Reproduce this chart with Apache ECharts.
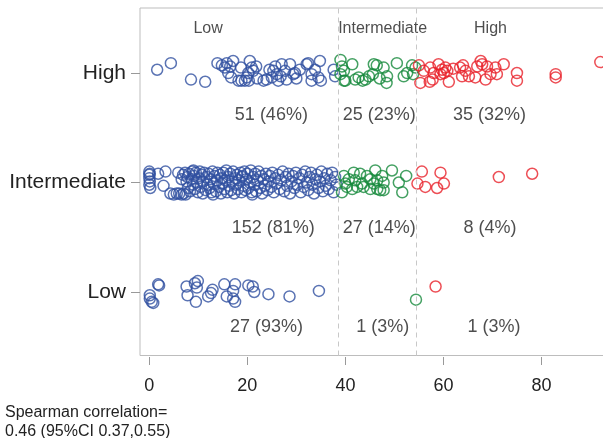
<!DOCTYPE html>
<html>
<head>
<meta charset="utf-8">
<title>Spearman jitter plot</title>
<script src="https://cdn.jsdelivr.net/npm/echarts@6/dist/echarts.min.js"></script>
<style>html,body{margin:0;padding:0;background:#fff;}</style>
</head>
<body>
<div id="main" style="width:603px;height:438px;"></div>
<script type="text/javascript">
// row categories (y) and column groups (x cut-offs)
var rowNames = ['Low', 'Intermediate', 'High'];
var groupNames = ['Low', 'Intermediate', 'High'];
var cutoffs = [38.55, 54.55];
var xTicks = [0, 20, 40, 60, 80];
var counts = [
  ['27 (93%)', '1 (3%)', '1 (3%)'],
  ['152 (81%)', '27 (14%)', '8 (4%)'],
  ['51 (46%)', '25 (23%)', '35 (32%)']
];
var note = 'Spearman correlation=\n0.46 (95%CI 0.37,0.55)';

// points per row and group: [value, vertical jitter]
var lowRowLow = [[0.1,-0.03],[0.1,-0.06],[0.5,-0.09],[0.8,-0.10],[1.8,0.07],[2.0,0.06],
  [7.6,0.05],[7.8,-0.03],[9.3,0.08],[9.9,0.10],[9.7,0.04],[9.5,-0.09],[12.0,-0.04],
  [12.9,0.02],[12.6,-0.01],[15.3,0.07],[15.8,-0.04],[17.1,0.01],[17.5,0.07],[17.1,-0.06],
  [17.5,-0.09],[20.2,0.06],[21.1,0.05],[21.4,0.00],[24.3,-0.02],[28.6,-0.04],[34.6,0.01]];
var lowRowInt = [[54.4,-0.07]];
var lowRowHigh = [[58.4,0.05]];

var intRowLow = [[0,0.10],[0,0.07],[0,0.04],[0.1,0.01],[0,-0.02],[0.2,-0.05],[0.1,0.08],
  [1.8,0.08],[2.9,-0.03],[3.3,0.10],[4.3,-0.10],[5.0,-0.11],[5.6,-0.10],[6.1,-0.10],[5.9,0.09],
  [6.6,-0.11],[7.0,-0.10],[7.4,-0.11],
  [6.6,0.03],[6.9,0.07],
  [7.3,0.09],[7.6,0.01],[7.9,-0.05],[7.8,0.05],
  [8.1,0.08],[8.3,-0.08],[8.6,0.03],[8.8,0.10],[8.9,-0.02],
  [9.1,0.06],[9.3,-0.06],[9.5,0.09],[9.7,0.00],[9.9,-0.09],[9.0,0.11],
  [10.1,0.04],[10.3,0.10],[10.5,-0.04],[10.7,0.07],[10.9,-0.10],
  [11.0,0.01],[11.2,0.09],[11.5,-0.07],[11.7,0.05],[11.9,-0.02],
  [12.1,0.08],[12.3,-0.05],[12.5,0.03],[12.7,-0.09],[12.9,0.10],
  [13.1,-0.01],[13.3,0.06],[13.6,-0.08],[13.8,0.02],[13.9,0.09],[13.0,-0.11],
  [14.2,-0.04],[14.4,0.07],[14.6,-0.10],[14.8,0.04],[14.9,-0.01],
  [15.1,0.09],[15.3,-0.06],[15.5,0.02],[15.7,0.11],[15.9,-0.09],
  [16.1,0.05],[16.3,-0.03],[16.5,0.08],[16.7,-0.07],[16.9,0.01],
  [17.1,0.10],[17.3,-0.10],[17.5,0.04],[17.7,-0.02],[17.9,0.07],
  [18.1,-0.06],[18.3,0.02],[18.6,0.09],[18.8,-0.09],[18.9,0.05],
  [19.2,-0.03],[19.4,0.10],[19.6,-0.07],[19.8,0.03],[19.0,0.06],
  [20.0,0.08],[20.2,-0.05],[20.5,0.00],[20.7,0.11],[20.9,-0.09],
  [21.2,0.05],[21.4,-0.02],[21.6,0.08],[21.8,-0.08],[21.0,-0.11],
  [22.1,0.02],[22.3,0.10],[22.6,-0.05],[22.8,0.06],
  [23.0,-0.10],[23.3,0.03],[23.5,-0.03],[23.8,0.08],
  [24.1,-0.07],[24.3,0.01],[24.6,0.06],[24.9,-0.04],
  [25.1,0.09],[25.4,-0.09],[25.7,0.04],
  [26.0,-0.01],[26.3,0.07],[26.6,-0.06],[26.9,0.02],
  [27.2,0.10],[27.5,-0.08],[27.8,0.05],
  [28.1,-0.03],[28.4,0.08],[28.7,-0.10],
  [29.0,0.01],[29.3,0.06],[29.6,-0.05],[29.9,0.09],
  [30.2,-0.02],[30.6,0.04],[30.9,-0.09],
  [31.2,0.07],[31.5,-0.04],[31.8,0.10],
  [32.1,0.00],[32.4,-0.07],[32.7,0.05],
  [33.0,0.09],[33.3,-0.02],[33.6,-0.10],[33.9,0.03],
  [34.2,0.07],[34.5,-0.05],[34.8,0.01],
  [35.1,0.10],[35.4,-0.08],[35.7,0.04],
  [36.0,-0.03],[36.3,0.08],[36.6,-0.06],
  [37.0,0.02],[37.3,0.09],[37.6,-0.09],
  [37.9,0.05],[38.2,-0.02]];
var intRowInt = [[39.7,0.06],[40.0,-0.01],[39.3,-0.09],[40.7,0.03],[41.7,0.09],[42.0,0.02],
  [41.4,-0.06],[43.0,0.08],[43.4,-0.01],[45.1,0.03],[45.1,-0.06],[46.1,0.11],[46.5,-0.06],
  [47.1,-0.07],[47.5,0.06],[47.8,0.00],[47.8,-0.07],[49.5,0.11],[50.9,0.00],[51.6,-0.09],
  [52.4,0.06],[43.7,-0.04],[45.8,-0.01],[40.3,-0.04],[42.4,-0.04],[44.4,0.06],[46.5,0.02]];
var intRowHigh = [[55.6,0.10],[54.7,-0.01],[56.3,-0.04],[59.4,0.09],[60.1,-0.01],[58.7,-0.05],
  [71.3,0.05],[78.1,0.08]];

var highRowLow = [[1.6,0.03],[4.4,0.09],[8.5,-0.06],[11.4,-0.08],[13.9,0.09],[14.8,0.07],
  [15.8,0.09],[15.4,0.05],[16.5,0.06],[17.1,0.11],[16.1,0.00],[16.7,-0.04],[18.2,-0.07],
  [18.7,0.05],[18.8,-0.07],[19.9,-0.04],[20.5,0.11],[20.9,0.05],[21.2,0.02],[20.2,0.00],
  [19.5,-0.07],[20.3,-0.07],[23.3,-0.07],[23.9,-0.06],[25.0,-0.04],[25.3,0.02],[25.7,0.06],
  [26.0,-0.01],[26.3,-0.07],[27.0,0.08],[27.7,0.02],[28.0,-0.06],[28.7,0.08],[29.4,-0.01],
  [29.7,0.00],[30.7,0.03],[32.1,0.08],[32.4,0.09],[33.1,-0.01],[33.1,-0.07],[33.8,0.03],
  [34.5,-0.04],[34.8,0.11],[35.0,-0.07],[37.6,0.03],[37.9,-0.03],[22.0,-0.05],[24.5,0.03],
  [26.8,-0.03],[21.8,0.06],[30.0,-0.05]];
var highRowInt = [[39.0,0.12],[39.3,0.06],[39.7,0.02],[39.0,-0.01],[40.0,-0.07],[41.4,0.08],
  [42.0,-0.06],[42.7,-0.04],[44.1,-0.06],[44.8,-0.03],[45.6,-0.01],[45.8,0.08],[46.4,0.07],
  [47.8,0.05],[48.5,-0.03],[48.4,-0.09],[50.5,0.09],[51.9,-0.03],[52.6,0.00],[53.6,0.07],
  [53.8,-0.01],[54.3,0.05],[39.7,-0.07],[43.5,-0.07],[47.0,-0.05]];
var highRowHigh = [[55.0,0.07],[55.3,-0.09],[56.0,0.02],[57.2,-0.08],[57.3,0.05],[58.0,0.00],
  [59.0,0.08],[59.7,0.03],[60.1,0.00],[60.4,0.05],[60.8,0.02],[61.1,-0.08],[59.4,-0.01],
  [63.4,0.05],[63.8,-0.03],[64.5,0.02],[65.2,-0.03],[66.5,-0.04],[66.9,0.06],[67.6,0.11],
  [67.9,0.08],[68.6,-0.06],[68.9,0.06],[69.6,-0.01],[70.6,0.05],[70.9,-0.01],[72.3,0.08],
  [75.0,0.00],[75.0,-0.07],[82.9,-0.01],[82.9,-0.04],[92.0,0.10],[62.0,0.04],[57.8,-0.06],
  [64.0,0.07]];

// text placement (data units)
var countX = [[23.9, 47.6, 70.3], [25.3, 46.9, 69.5], [24.9, 46.9, 69.4]];
var countY = [-0.32, 0.582, 1.616];
var headerX = [12.0, 47.6, 69.6];
var headerY = 2.41;

function toRow(points, row) {
  return points.map(function (p) { return [p[0], row + p[1]]; });
}

var blue = toRow(lowRowLow, 0).concat(toRow(intRowLow, 1), toRow(highRowLow, 2));
var green = toRow(lowRowInt, 0).concat(toRow(intRowInt, 1), toRow(highRowInt, 2));
var red = toRow(lowRowHigh, 0).concat(toRow(intRowHigh, 1), toRow(highRowHigh, 2));

var textData = [];
for (var r = 0; r < 3; r++) {
  for (var g = 0; g < 3; g++) {
    textData.push({ value: [countX[r][g], countY[r], counts[r][g]] });
  }
}
var headerData = headerX.map(function (x, i) { return { value: [x, headerY, groupNames[i]] }; });

var font = '"Liberation Sans", Arial, sans-serif';

function pointSeries(name, data, color) {
  return {
    name: name,
    type: 'scatter',
    data: data,
    symbol: 'circle',
    symbolSize: 11,
    itemStyle: { color: 'rgba(255,255,255,0)', borderColor: color, borderWidth: 1.5 },
    silent: true,
    z: 3
  };
}

var myChart = echarts.init(document.getElementById('main'));
myChart.setOption({
  animation: false,
  textStyle: { fontFamily: font },
  grid: { left: 140, top: 8, right: -12, bottom: 82.5, outerBoundsMode: 'none', containLabel: false,
    show: true, borderColor: '#bdbdbd', borderWidth: 1 },
  xAxis: {
    type: 'value', min: -1.9, max: 95, offset: 1.5,
    axisLine: { show: false, onZero: false },
    splitLine: { show: false },
    axisTick: { customValues: xTicks, length: 8, lineStyle: { color: '#999' } },
    axisLabel: { customValues: xTicks, fontSize: 18, color: '#222', margin: 20, fontFamily: font }
  },
  yAxis: {
    type: 'value', min: -0.58, max: 2.594,
    axisLine: { show: false, onZero: false },
    splitLine: { show: false },
    axisTick: { customValues: [0, 1, 2], length: 9, lineStyle: { color: '#999' } },
    axisLabel: {
      customValues: [0, 1, 2], fontSize: 21, color: '#222', margin: 14, fontFamily: font,
      formatter: function (v) { return rowNames[Math.round(v)]; }
    }
  },
  graphic: [{
    type: 'text', left: 5, top: 403,
    style: { text: note, fontSize: 16, lineHeight: 19, fill: '#222', fontFamily: font }
  }],
  series: [
    {
      type: 'scatter', data: [], silent: true,
      markLine: {
        silent: true, symbol: 'none', label: { show: false },
        lineStyle: { type: [5, 4], color: '#c8c8c8', width: 1 },
        data: cutoffs.map(function (c) { return { xAxis: c }; })
      }
    },
    pointSeries('Low', blue, '#3150a0'),
    pointSeries('Intermediate', green, '#168a3c'),
    pointSeries('High', red, '#e8222b'),
    {
      type: 'scatter', data: textData, symbolSize: 0, silent: true,
      label: { show: true, position: 'inside', color: '#222', fontSize: 18, fontFamily: font,
        formatter: function (p) { return p.value[2]; } }
    },
    {
      type: 'scatter', data: headerData, symbolSize: 0, silent: true,
      label: { show: true, position: 'inside', color: '#222', fontSize: 16, fontFamily: font,
        formatter: function (p) { return p.value[2]; } }
    }
  ]
});
</script>
</body>
</html>
